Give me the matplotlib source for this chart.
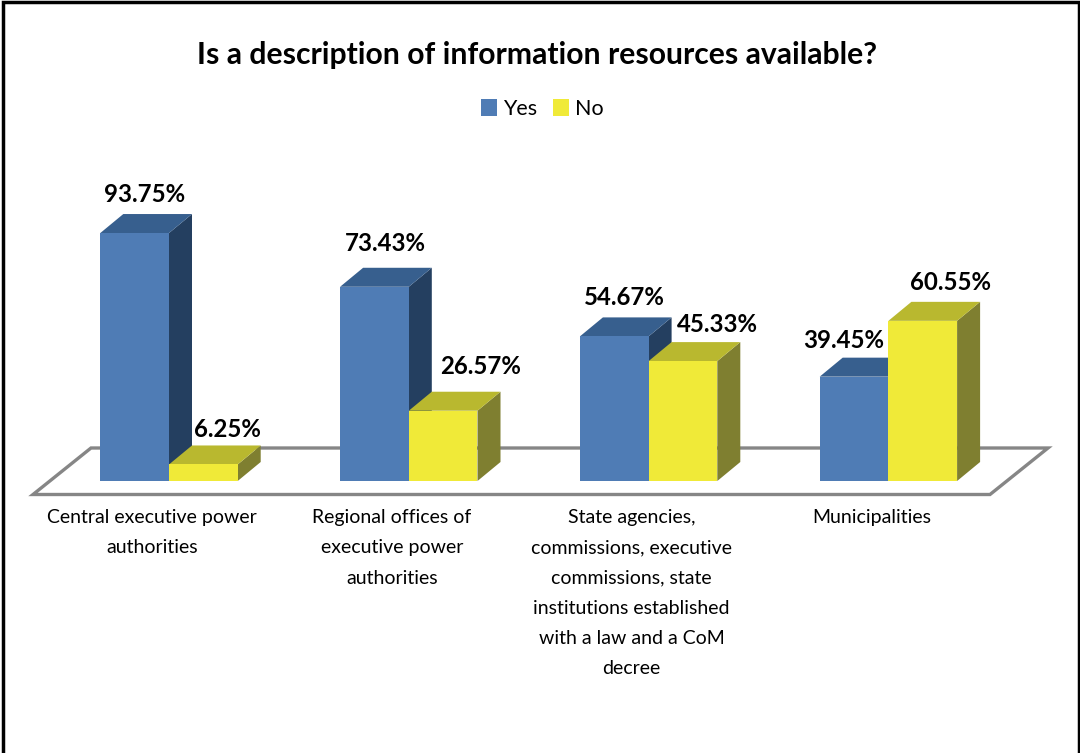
# Is a description of information resources available? - 3D style bars

import matplotlib
matplotlib.use("Agg")
import matplotlib.pyplot as plt
from matplotlib.patches import Polygon, Rectangle

plt.rcParams['font.family'] = ['Lato', 'DejaVu Sans']

# Data

categories = ["Central executive power\nauthorities",
              "Regional offices of\nexecutive power\nauthorities",
              "State agencies,\ncommissions, executive\ncommissions, state\ninstitutions established\nwith a law and a CoM\ndecree",
              "Municipalities"]
yes_values = [93.75, 73.43, 54.67, 39.45]
no_values = [6.25, 26.57, 45.33, 60.55]
series_names = ["Yes", "No"]

# Colours: front, top, side

yes_colors = ['#4f7cb5', '#375f8e', '#243f60']
no_colors = ['#f0ea38', '#b9b82f', '#7f7f30']
floor_color = '#868686'

# Label offsets in pixels from the centre of the top of each bar

yes_offsets = [(10, 39), (11, 43), (10, 39), (-10, 36)]
no_offsets = [(24, 35), (37, 44), (35, 37), (28, 38)]

# Scale: one category is 240 px, one percent is 2.645 px

W, H = 1080, 753
px_x = 239.8
px_y = 2.645
x0 = 169
y0 = 481
bar_w = 68.7 / px_x
depth_x = 23 / px_x
depth_y = 19 / px_y

fig = plt.figure(figsize=(W / 100, H / 100), dpi=100)
ax = fig.add_axes([0, 0, 1, 1])
ax.set_xlim(-x0 / px_x, (W - x0) / px_x)
ax.set_ylim((y0 - H) / px_y, y0 / px_y)
ax.axis('off')


def X(px):
    return (px - x0) / px_x


def Y(py):
    return (y0 - py) / px_y


# Frame (no bottom edge in the picture)

ax.plot([X(3), X(3), X(1079), X(1079)], [Y(753), Y(2), Y(2), Y(753)],
        color='black', lw=2.5, solid_joinstyle='miter')

# Floor

floor = Polygon([(X(33), Y(494.5)), (X(990), Y(494.5)), (X(1048), Y(448)), (X(91), Y(448))],
                closed=True, fill=False, edgecolor=floor_color, lw=2.4, joinstyle='miter')
ax.add_patch(floor)


def bar3d(left, value, colors):
    right = left + bar_w
    side = Polygon([(right, 0), (right + depth_x, depth_y),
                    (right + depth_x, value + depth_y), (right, value)],
                   closed=True, facecolor=colors[2], edgecolor='none')
    top = Polygon([(left, value), (right, value),
                   (right + depth_x, value + depth_y), (left + depth_x, value + depth_y)],
                  closed=True, facecolor=colors[1], edgecolor='none')
    front = Rectangle((left, 0), bar_w, value, facecolor=colors[0], edgecolor='none')
    ax.add_patch(side)
    ax.add_patch(top)
    ax.add_patch(front)


def value_label(center, value, offset):
    ax.annotate("{:.2f}%".format(value), (center, value), xytext=offset,
                textcoords='offset pixels', ha='center', va='center',
                fontsize=17.3, fontweight='bold', color='black', zorder=5)


for i in range(len(categories)):
    bar3d(i - bar_w, yes_values[i], yes_colors)
    bar3d(i, no_values[i], no_colors)
    value_label(i - bar_w / 2, yes_values[i], yes_offsets[i])
    value_label(i + bar_w / 2, no_values[i], no_offsets[i])
    ax.text(i - 17 / px_x, Y(509), categories[i], ha='center', va='top',
            fontsize=14, color='black', linespacing=1.95)

# Title

ax.text(X(537), Y(55), "Is a description of information resources available?",
        ha='center', va='center', fontsize=21.7, fontweight='bold', color='black')

# Legend

ax.add_patch(Rectangle((X(481), Y(116)), 16 / px_x, 17 / px_y, facecolor=yes_colors[0], edgecolor='none'))
ax.text(X(503), Y(109), series_names[0], ha='left', va='center', fontsize=15.5)
ax.add_patch(Rectangle((X(553), Y(116)), 16 / px_x, 17 / px_y, facecolor=no_colors[0], edgecolor='none'))
ax.text(X(575), Y(109), series_names[1], ha='left', va='center', fontsize=15.5)

fig.savefig('out.png', dpi=100)
